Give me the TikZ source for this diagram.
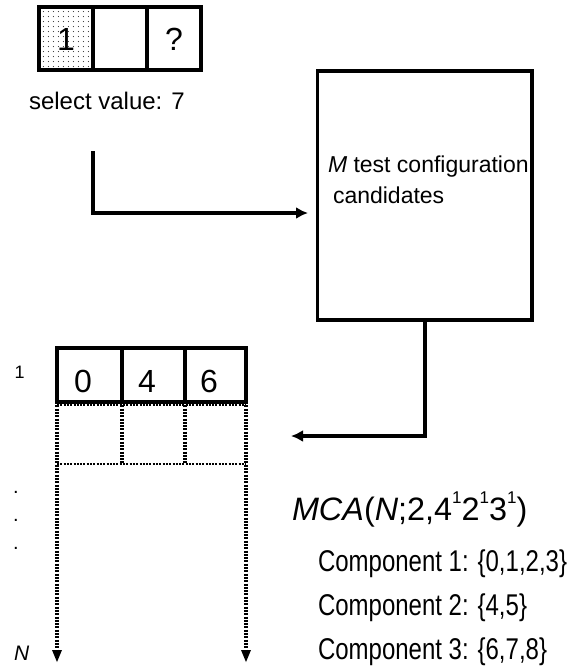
\documentclass[tikz,border=0pt]{standalone}
\usepackage{fontspec}
\setmainfont{Liberation Sans}
\usetikzlibrary{arrows.meta,patterns.meta}
\tikzset{
  cell/.style={draw,line width=3.6pt,minimum width=54pt,minimum height=63pt,inner sep=0pt,outer sep=0pt,anchor=north west},
  lowcell/.style={cell,minimum height=54pt},
  digit/.style={inner sep=0pt,outer sep=0pt,anchor=base,font=\fontsize{32}{34}\selectfont},
  solidline/.style={draw,line width=3.4pt},
  arrowline/.style={solidline,-{Latex[length=12pt,width=12pt]},line cap=butt},
  dotline/.style={draw,line width=3.2pt,dash pattern=on 2pt off 1.3pt},
  dotthin/.style={draw,line width=2.4pt,dash pattern=on 2pt off 1.3pt},
  tiptri/.style={fill=black,draw=none},
  lab/.style={inner sep=0pt,outer sep=0pt,anchor=base west},
  comp/.style={lab,font=\fontsize{30}{32}\selectfont},
}
\newcommand{\supone}{\raisebox{17pt}{\fontsize{17}{18}\selectfont 1}}
\begin{document}
\begin{tikzpicture}[x=1pt,y=-1pt]
\useasboundingbox (0,0) rectangle (573,670);
% top row
\node[cell,pattern={Dots[radius=0.6pt,distance=5.4pt,xshift=1pt]},pattern color=black!80] (t1) at (39,7) {};
\node[cell] (t2) at (93,7) {};
\node[cell] (t3) at (147,7) {};
\node[digit] (t1l) at (66,50) {1};
\node[digit] (t3l) at (174,50) {?};
\node[lab,font=\fontsize{24}{26}\selectfont] (sel) at (29,109) {select value: 7};
% big box
\node[draw,line width=3.6pt,minimum width=214.5pt,minimum height=249pt,inner sep=0pt,outer sep=0pt,anchor=north west] (box) at (317.5,71) {};
\node[lab,font=\fontsize{23}{25}\selectfont] (m1) at (328,172) {\textit{M} test configuration};
\node[lab,font=\fontsize{23}{25}\selectfont] (m2) at (333,203) {candidates};
% connector 1
\coordinate (s1) at (93,151);
\coordinate (c1) at (93,213);
\coordinate (e1) at (308,213);
\draw[arrowline] (s1) -- (c1) -- (e1);
% lower table
\node[lowcell,minimum width=65pt] (a0) at (57,348) {};
\node[lowcell,minimum width=63pt] (a1) at (122,348) {};
\node[lowcell,minimum width=61pt] (a2) at (185,348) {};
\node[digit] (a0l) at (83,392) {0};
\node[digit] (a1l) at (147,392) {4};
\node[digit] (a2l) at (209,392) {6};
% connector 2
\coordinate (c2) at (425,436);
\coordinate (e2) at (291,436);
\draw[arrowline] (c2 |- box.south) -- (c2) -- (e2);
% dotted grid
\coordinate (b1) at (122,464);
\coordinate (b2) at (185,464);
\coordinate (bl) at (57,464);
\coordinate (br) at (246,464);
\coordinate (el) at (57,652);
\coordinate (er) at (246,652);
\coordinate (tl) at (57,405);
\coordinate (tr) at (246,405);
\draw[dotthin] (tl) -- (tr);
\draw[dotline] (a1.south west) -- (b1);
\draw[dotline] (a2.south west) -- (b2);
\draw[dotthin] (bl) -- (br);
\draw[dotline] (a0.south west) -- (el);
\draw[dotline] (a2.south east) -- (er);
\fill[tiptri] (52,650) -- (62,650) -- (57,662) -- cycle;
\fill[tiptri] (241,650) -- (251,650) -- (246,662) -- cycle;
% left labels
\node[lab,font=\fontsize{18}{20}\selectfont] (n1) at (14.5,378) {1};
\node[lab,font=\fontsize{20}{22}\selectfont] (d1) at (13,493) {.};
\node[lab,font=\fontsize{20}{22}\selectfont] (d2) at (13,521) {.};
\node[lab,font=\fontsize{20}{22}\selectfont] (d3) at (13,549) {.};
\node[lab,font=\fontsize{21}{23}\selectfont\itshape] (nn) at (14,660) {N};
% MCA
\node[lab,font=\fontsize{32.4}{35}\selectfont] (mca) at (292,520) {\textit{MCA}(\textit{N};2,4\supone2\supone3\supone)};
\node[comp] (c1t) at (318,571) {\scalebox{0.8}[1]{Component 1: \{0,1,2,3\}}};
\node[comp] (c2t) at (318,615) {\scalebox{0.8}[1]{Component 2: \{4,5\}}};
\node[comp] (c3t) at (318,659) {\scalebox{0.8}[1]{Component 3: \{6,7,8\}}};
\end{tikzpicture}
\end{document}
